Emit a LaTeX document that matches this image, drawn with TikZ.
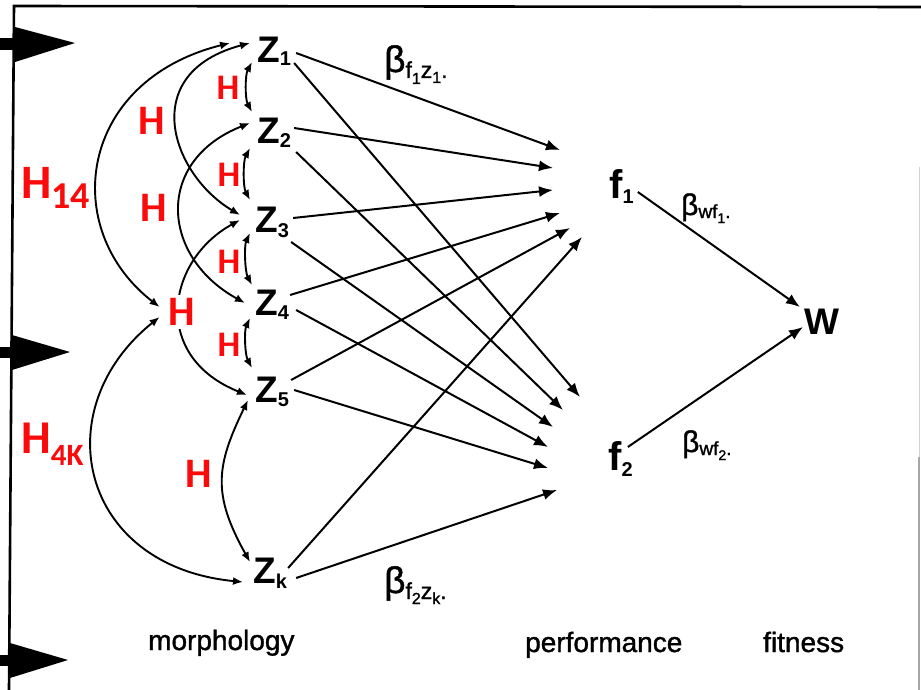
\documentclass[tikz,border=0pt]{standalone}
\usepackage{fontspec}
\setmainfont{Liberation Sans}
\newfontfamily\hfont{Carlito}
\newfontfamily\medfont{Liberation Sans}[FakeBold=1.3]
\usetikzlibrary{arrows.meta}

\definecolor{hred}{RGB}{250,10,10}
% lowered, smaller text: depth, size, text
\newcommand{\lo}[3]{\raisebox{-#1pt}{\fontsize{#2}{#2}\selectfont #3}}

\tikzset{
  zlab/.style={inner sep=0pt, font=\fontsize{37}{37}\selectfont\bfseries},
  flab/.style={inner sep=0pt, font=\fontsize{40}{40}\selectfont\bfseries},
  blab/.style={inner sep=0pt, font=\medfont\fontsize{37}{37}\selectfont},
  bsmall/.style={inner sep=0pt, font=\medfont\fontsize{30}{30}\selectfont},
  hsmall/.style={inner sep=0pt, text=hred, font=\hfont\bfseries\fontsize{36}{36}\selectfont},
  hbig/.style={inner sep=0pt, text=hred, font=\hfont\bfseries\fontsize{42}{42}\selectfont},
  txt/.style={inner sep=0pt, font=\medfont\fontsize{28}{28}\selectfont},
  arr/.style={line width=2pt, -{Latex[length=14pt,width=11pt]}},
  harr/.style={line width=1.9pt, {Latex[length=10pt,width=8pt]}-{Latex[length=10pt,width=8pt]}}
}

\begin{document}
\begin{tikzpicture}[x=1pt,y=-1pt]
  \useasboundingbox (0,0) rectangle (921,690);
  % frame and the big pointers on the left
  \draw[line width=2.6pt] (9,690) -- (14,6) -- (921,7);
  \draw[line width=1pt, gray!35] (919,167) -- (919,457);
  \draw[line width=1.2pt, gray!70] (919,457) -- (919,690);
  \fill (0,38) rectangle (16,50);
  \fill (15,27) -- (75,43) -- (15,62) -- cycle;
  \fill (0,347) rectangle (13,358);
  \fill (12,335) -- (70,352) -- (12,370) -- cycle;
  \fill (0,655) rectangle (11,666);
  \fill (10,643) -- (68,660) -- (10,678) -- cycle;

  % traits
  \node[zlab, anchor=base west] (z1) at (257,63) {Z\lo{3}{20}{1}};
  \node[zlab, anchor=base west] (z2) at (257,143) {Z\lo{4}{20}{2}};
  \node[zlab, anchor=base west] (z3) at (255,232) {Z\lo{5}{20}{3}};
  \node[zlab, anchor=base west] (z4) at (255,315) {Z\lo{4}{20}{4}};
  \node[zlab, anchor=base west] (z5) at (255,402) {Z\lo{4}{20}{5}};
  \node[zlab, anchor=base west] (zk) at (253,583) {Z\lo{5}{20}{k}};

  % performance and fitness
  \node[flab, anchor=base west] (f1) at (609,198) {f\lo{5}{20}{1}};
  \node[flab, anchor=base west] (f2) at (608,470) {f\lo{6}{20}{2}};
  \node[zlab, anchor=base west] (w) at (804,334) {W};

  % path coefficients
  \node[blab, anchor=base west] (bfz1) at (384,72) {β\lo{6}{23}{f\lo{6}{16}{1}z\lo{5}{16}{1}.}};
  \node[blab, anchor=base west] (bfzk) at (384,593) {β\lo{6}{23}{f\lo{5}{16}{2}z\lo{5}{16}{k}.}};
  \node[bsmall, anchor=base west] (bwf1) at (681,215) {β\lo{3}{19}{wf\lo{5}{14}{1}.}};
  \node[bsmall, anchor=base west] (bwf2) at (682,452) {β\lo{3}{19}{wf\lo{5}{14}{2}.}};

  \node[txt, anchor=base west] (morph) at (148,650) {morphology};
  \node[txt, anchor=base west] (perf) at (525,652) {performance};
  \node[txt, anchor=base west] (fit) at (763,652) {fitness};

  % traits to performance
  \foreach \z/\sx/\sy/\tx/\ty in {z1/5/-10/-49/-48, z2/3/-15/-56/-30, z3/4/-14/-56/-8,
      z4/1/-20/-49/15, z5/2/-22/-39/30, zk/1/-15/-27/39}
    \draw[arr] ([shift={(\sx,\sy)}]\z.base east) -- ([shift={(\tx,\ty)}]f1.base west);
  \foreach \z/\sx/\sy/\tx/\ty in {z1/3/0/-28/-73, z2/5/9/-45/-60, z3/2/10/-55/-43,
      z4/7/-5/-60/-23, z5/5/-12/-60/-2, zk/9/-5/-51/20}
    \draw[arr] ([shift={(\sx,\sy)}]\z.base east) -- ([shift={(\tx,\ty)}]f2.base west);

  % performance to fitness
  \draw[arr] ([shift={(4,-6)}]f1.base east) -- ([shift={(-4,-27)}]w.base west);
  \draw[arr] ([shift={(-5,-23)}]f2.base east) -- ([shift={(-1,-7)}]w.base west);

  % correlations between neighbours
  \draw[harr] ([shift={(-5,-1)}]z1.base west) .. controls (245,75) and (245,99) .. ([shift={(-5,-31)}]z2.base west);
  \draw[harr] ([shift={(-7,5)}]z2.base west) .. controls (243,161) and (243,187) .. ([shift={(-5,-32)}]z3.base west);
  \draw[harr] ([shift={(-5,1)}]z3.base west) .. controls (244,246) and (245,272) .. ([shift={(-3,-30)}]z4.base west);
  \draw[harr] ([shift={(-5,3)}]z4.base west) .. controls (244,331) and (245,355) .. ([shift={(-3,-34)}]z5.base west);
  % longer ones
  \draw[harr] ([shift={(-7,-20)}]z1.base west) .. controls (137,73) and (171,174) .. ([shift={(-15,-17)}]z3.base west);
  \draw[harr] ([shift={(-7,-20)}]z2.base west) .. controls (154,161) and (161,257) .. ([shift={(-10,-12)}]z4.base west);
  \draw[harr] ([shift={(-15,-12)}]z3.base west) .. controls (167,260) and (150,356) .. ([shift={(-8,-7)}]z5.base west);
  \draw[harr] ([shift={(-7,-2)}]z5.base west) .. controls (216,466) and (212,494) .. ([shift={(-3,-21)}]zk.base west);

  \node[hbig, fill=white, inner sep=3pt] (hc) at (182,312) {H};
  \draw[harr] ([shift={(-27,-20)}]z1.base west) .. controls (78,81) and (59,229) .. ([shift={(-6,-5)}]hc.west);
  \draw[harr] ([shift={(-6,5)}]hc.west) .. controls (45,409) and (79,566) .. ([shift={(-10,-1)}]zk.base west);

  % heritabilities
  \node[hsmall] (h12) at (228,88) {H};
  \node[hsmall] (h23) at (229,175) {H};
  \node[hsmall] (h34) at (229,262) {H};
  \node[hsmall] (h45) at (229,345) {H};
  \node[hbig] (hl1) at (152,121) {H};
  \node[hbig] (hl2) at (154,208) {H};
  \node[hbig] (h5k) at (199,474) {H};
  \node[hbig, anchor=base west, font=\hfont\bfseries\fontsize{48}{48}\selectfont] (h14) at (21,198) {H\lo{10}{38}{14}};
  \node[hbig, anchor=base west, font=\hfont\bfseries\fontsize{47}{47}\selectfont] (h4k) at (21,453) {H\lo{12}{31}{4K}};
\end{tikzpicture}
\end{document}
